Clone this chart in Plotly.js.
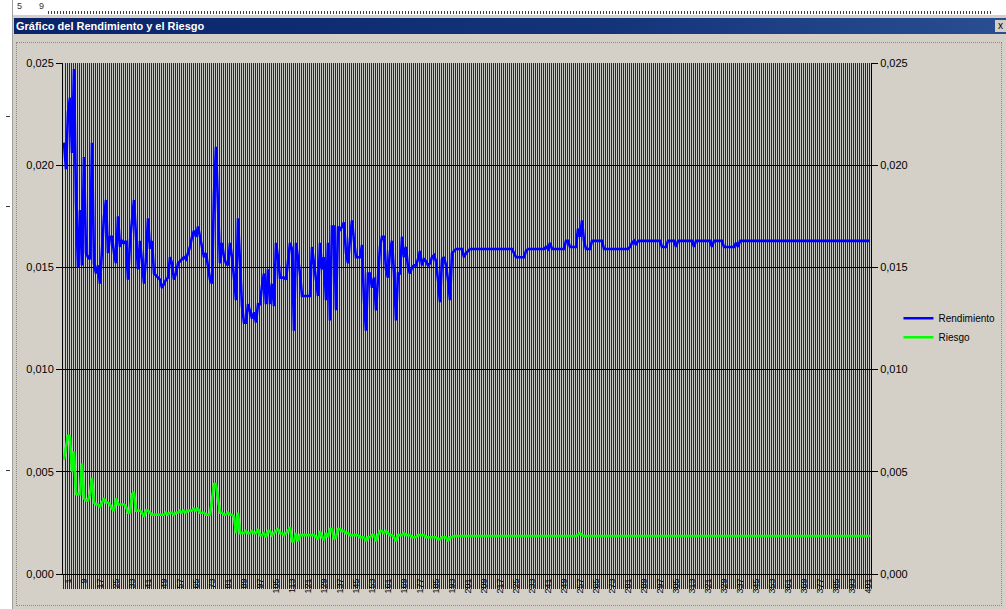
<!DOCTYPE html>
<html>
<head>
<meta charset="utf-8">
<script src="https://cdn.plot.ly/plotly-3.0.1.min.js"></script>
<style>
  html,body{margin:0;padding:0;background:#d4d0c8;}
  #wrap{position:relative;width:1006px;height:609px;overflow:hidden;background:#d4d0c8;}
  #topstrip{position:absolute;left:0;top:0;width:1006px;height:15px;background:#ffffff;}
  #leftcol{position:absolute;left:0;top:0;width:12px;height:609px;background:#ffffff;border-right:1px solid #a0a0a0;}
  #ruler{position:absolute;left:48px;top:11px;width:945px;height:3px;
    background:repeating-linear-gradient(to right,#404040 0px,#404040 1px,#ffffff 1px,#ffffff 3px);}
  .rnum{position:absolute;top:1px;font:9px "Liberation Sans",Arial,sans-serif;color:#333;}
  .lmark{position:absolute;left:6px;width:4px;height:1px;background:#333;}
  #titlebar{position:absolute;left:14px;top:18px;width:992px;height:16px;
    background:linear-gradient(to right,#0a246a 0%,#14347a 60%,#2a4e92 100%);}
  #closebtn{position:absolute;left:995px;top:20px;width:11px;height:12px;background:#d4d0c8;
    font:10px "Liberation Sans",Arial,sans-serif;line-height:11px;color:#000;text-align:center;}
  #frame{position:absolute;left:16px;top:42px;width:984px;height:562px;border:1px dotted #8a8a8a;}
  #chart{position:absolute;left:0;top:0;width:1006px;height:609px;}
</style>
</head>
<body>
<div id="wrap">
  <div id="topstrip"></div>
  <div id="ruler"></div>
  <div class="rnum" style="left:17px;">5</div>
  <div class="rnum" style="left:39px;">9</div>
  <div id="leftcol"></div>
  <div class="lmark" style="top:116px;"></div>
  <div class="lmark" style="top:206px;"></div>
  <div class="lmark" style="top:470px;"></div>
  <div id="titlebar"></div>
  <div id="closebtn">x</div>
  <div id="frame"></div>
  <div id="chart"></div>
</div>
<script>
// ---- data ----
var seriesNames = ["Rendimiento", "Riesgo"];
var seriesColors = ["#0000ff", "#00ff00"];

var rendimiento = [
0.0211,0.0198,0.0226,0.0233,0.0206,0.0247,0.0182,0.0150,0.0178,0.0151,
0.0204,0.0157,0.0155,0.0154,0.0211,0.0152,0.0147,0.0151,0.0142,0.0162,
0.0175,0.0183,0.0157,0.0165,0.0165,0.0157,0.0152,0.0175,0.0160,0.0163,
0.0162,0.0163,0.0144,0.0163,0.0175,0.0183,0.0165,0.0149,0.0163,0.0152,
0.0142,0.0155,0.0174,0.0159,0.0163,0.0147,0.0146,0.0145,0.0144,0.0140,
0.0142,0.0144,0.0145,0.0155,0.0152,0.0144,0.0147,0.0152,0.0153,0.0154,
0.0155,0.0154,0.0157,0.0160,0.0165,0.0168,0.0165,0.0170,0.0165,0.0160,
0.0155,0.0157,0.0149,0.0144,0.0142,0.0186,0.0209,0.0180,0.0152,0.0162,
0.0155,0.0152,0.0151,0.0162,0.0155,0.0145,0.0134,0.0174,0.0155,0.0131,
0.0123,0.0123,0.0132,0.0128,0.0125,0.0128,0.0123,0.0132,0.0132,0.0141,
0.0147,0.0132,0.0149,0.0132,0.0142,0.0131,0.0162,0.0155,0.0145,0.0145,
0.0145,0.0144,0.0152,0.0162,0.0159,0.0119,0.0162,0.0155,0.0147,0.0136,
0.0136,0.0136,0.0136,0.0136,0.0160,0.0152,0.0144,0.0136,0.0162,0.0149,
0.0155,0.0134,0.0162,0.0124,0.0170,0.0170,0.0129,0.0170,0.0168,0.0170,
0.0172,0.0157,0.0152,0.0164,0.0173,0.0163,0.0155,0.0155,0.0155,0.0161,
0.0134,0.0119,0.0147,0.0147,0.0140,0.0145,0.0129,0.0145,0.0160,0.0165,
0.0165,0.0149,0.0145,0.0158,0.0163,0.0147,0.0124,0.0147,0.0147,0.0165,
0.0155,0.0160,0.0150,0.0147,0.0150,0.0151,0.0151,0.0154,0.0158,0.0151,
0.0154,0.0153,0.0151,0.0152,0.0155,0.0156,0.0153,0.0144,0.0133,0.0154,
0.0155,0.0151,0.0144,0.0134,0.0157,0.0158,0.0159,0.0159,0.0159,0.0159,
0.0155,0.0157,0.0158,0.0159,0.0159,0.0159,0.0159,0.0159,0.0159,0.0159,
0.0159,0.0159,0.0159,0.0159,0.0159,0.0159,0.0159,0.0159,0.0159,0.0159,
0.0159,0.0159,0.0159,0.0159,0.0159,0.0157,0.0155,0.0155,0.0155,0.0155,
0.0155,0.0158,0.0159,0.0159,0.0159,0.0159,0.0159,0.0159,0.0159,0.0159,
0.0159,0.0160,0.0159,0.0162,0.0159,0.0159,0.0159,0.0159,0.0159,0.0159,
0.0159,0.0163,0.0163,0.0160,0.0160,0.0160,0.0160,0.0169,0.0165,0.0173,
0.0163,0.0159,0.0159,0.0159,0.0163,0.0163,0.0163,0.0163,0.0163,0.0163,
0.0159,0.0159,0.0159,0.0159,0.0159,0.0159,0.0159,0.0159,0.0159,0.0159,
0.0159,0.0159,0.0159,0.0160,0.0162,0.0163,0.0161,0.0163,0.0163,0.0163,
0.0163,0.0163,0.0163,0.0163,0.0163,0.0163,0.0163,0.0163,0.0163,0.0160,
0.0160,0.0160,0.0163,0.0163,0.0163,0.0163,0.0160,0.0163,0.0163,0.0163,
0.0163,0.0163,0.0163,0.0163,0.0163,0.0160,0.0163,0.0163,0.0163,0.0163,
0.0163,0.0163,0.0163,0.0163,0.0160,0.0163,0.0163,0.0163,0.0163,0.0163,
0.0160,0.0160,0.0160,0.0160,0.0160,0.0160,0.0162,0.0160,0.0163,0.0163,
0.0163,0.0163,0.0163,0.0163,0.0163,0.0163,0.0163,0.0163,0.0163,0.0163,
0.0163,0.0163,0.0163,0.0163,0.0163,0.0163,0.0163,0.0163,0.0163,0.0163,
0.0163,0.0163,0.0163,0.0163,0.0163,0.0163,0.0163,0.0163,0.0163,0.0163,
0.0163,0.0163,0.0163,0.0163,0.0163,0.0163,0.0163,0.0163,0.0163,0.0163,
0.0163,0.0163,0.0163,0.0163,0.0163,0.0163,0.0163,0.0163,0.0163,0.0163,
0.0163,0.0163,0.0163,0.0163,0.0163,0.0163,0.0163,0.0163,0.0163,0.0163,
0.0163,0.0163,0.0163,0.0163
];

var riesgo = [
0.0056,0.0062,0.0068,0.0067,0.0050,0.0060,0.0039,0.0039,0.0039,0.0054,
0.0037,0.0036,0.0036,0.0039,0.0047,0.0035,0.0034,0.0034,0.0033,0.0035,
0.0037,0.0035,0.0035,0.0034,0.0032,0.0031,0.0037,0.0034,0.0034,0.0034,
0.0034,0.0033,0.0030,0.0030,0.0039,0.0040,0.0031,0.0031,0.0031,0.0030,
0.0028,0.0031,0.0031,0.0030,0.0029,0.0029,0.0029,0.0029,0.0029,0.0029,
0.0029,0.0030,0.0029,0.0030,0.0030,0.0029,0.0030,0.0030,0.0031,0.0030,
0.0031,0.0030,0.0031,0.0031,0.0031,0.0032,0.0031,0.0032,0.0030,0.0030,
0.0030,0.0029,0.0029,0.0029,0.0036,0.0044,0.0044,0.0036,0.0030,0.0030,
0.0029,0.0029,0.0030,0.0029,0.0029,0.0028,0.0020,0.0030,0.0020,0.0020,
0.0020,0.0021,0.0020,0.0020,0.0021,0.0020,0.0020,0.0022,0.0019,0.0019,
0.0020,0.0018,0.0021,0.0021,0.0019,0.0020,0.0021,0.0022,0.0020,0.0020,
0.0019,0.0020,0.0021,0.0023,0.0016,0.0016,0.0020,0.0016,0.0019,0.0019,
0.0019,0.0019,0.0019,0.0019,0.0019,0.0019,0.0018,0.0017,0.0021,0.0018,
0.0017,0.0020,0.0018,0.0022,0.0022,0.0017,0.0018,0.0022,0.0022,0.0021,
0.0021,0.0020,0.0020,0.0019,0.0019,0.0019,0.0019,0.0019,0.0018,0.0018,
0.0018,0.0016,0.0018,0.0018,0.0019,0.0019,0.0016,0.0019,0.0021,0.0021,
0.0020,0.0021,0.0020,0.0019,0.0019,0.0018,0.0016,0.0019,0.0019,0.0019,
0.0020,0.0019,0.0019,0.0019,0.0018,0.0018,0.0018,0.0019,0.0019,0.0019,
0.0019,0.0018,0.0018,0.0018,0.0018,0.0018,0.0018,0.0017,0.0017,0.0018,
0.0018,0.0018,0.0016,0.0018,0.0018,0.00186,0.00186,0.00186,0.00186,0.00186,
0.00186,0.00186,0.00186,0.00186,0.00186,0.00186,0.00186,0.00186,0.00186,0.00186,
0.00186,0.00186,0.00186,0.00186,0.00186,0.00186,0.00186,0.00186,0.00186,0.00186,
0.00186,0.00186,0.00186,0.00186,0.00186,0.00186,0.00186,0.00186,0.00186,0.00186,
0.00186,0.00186,0.00186,0.00186,0.00186,0.00186,0.00186,0.00186,0.00186,0.00186,
0.00186,0.00186,0.00186,0.00186,0.00186,0.00186,0.00186,0.00186,0.00186,0.00186,
0.00186,0.00186,0.00186,0.00186,0.00186,0.00186,0.00186,0.0019,0.0020,0.0019,
0.00186,0.00186,0.00186,0.00186,0.00186,0.00186,0.00186,0.00186,0.00186,0.00186,
0.00186,0.00186,0.00186,0.00186,0.00186,0.00186,0.00186,0.00186,0.00186,0.00186,
0.00186,0.00186,0.00186,0.00186,0.00186,0.00186,0.00186,0.00186,0.00186,0.00186,
0.00186,0.00186,0.00186,0.00186,0.00186,0.00186,0.00186,0.00186,0.00186,0.00186,
0.00186,0.00186,0.00186,0.00186,0.00186,0.00186,0.00186,0.00186,0.00186,0.00186,
0.00186,0.00186,0.00186,0.00186,0.00186,0.00186,0.00186,0.00186,0.00186,0.00186,
0.00186,0.00186,0.00186,0.00186,0.00186,0.00186,0.00186,0.00186,0.00186,0.00186,
0.00186,0.00186,0.00186,0.00186,0.00186,0.00186,0.00186,0.00186,0.00186,0.00186,
0.00186,0.00186,0.00186,0.00186,0.00186,0.00186,0.00186,0.00186,0.00186,0.00186,
0.00186,0.00186,0.00186,0.00186,0.00186,0.00186,0.00186,0.00186,0.00186,0.00186,
0.00186,0.00186,0.00186,0.00186,0.00186,0.00186,0.00186,0.00186,0.00186,0.00186,
0.00186,0.00186,0.00186,0.00186,0.00186,0.00186,0.00186,0.00186,0.00186,0.00186,
0.00186,0.00186,0.00186,0.00186,0.00186,0.00186,0.00186,0.00186,0.00186,0.00186,
0.00186,0.00186,0.00186,0.00186,0.00186,0.00186,0.00186,0.00186,0.00186,0.00186,
0.00186,0.00186,0.00186,0.00186
];

// categories 1..N (period numbers)
var nCat = Math.max(rendimiento.length, riesgo.length);
var categorias = [];
for (var k = 1; k <= nCat; k++) categorias.push(k);

var yTickVals = [0, 0.005, 0.010, 0.015, 0.020, 0.025];
var xLabelStep = 8;
var chartTitle = "Gráfico del Rendimiento y el Riesgo";

var FONT = '"Liberation Sans", Arial, sans-serif';

var traces = [
  {x: categorias.slice(0, rendimiento.length), y: rendimiento, name: seriesNames[0],
   type: 'scatter', mode: 'lines', line: {color: seriesColors[0], width: 2.6}, yaxis: 'y'},
  {x: categorias.slice(0, riesgo.length), y: riesgo, name: seriesNames[1],
   type: 'scatter', mode: 'lines', line: {color: seriesColors[1], width: 2.6}, yaxis: 'y2'}
];

var yCommon = {
  range: [0, 0.025], tickvals: yTickVals, tickformat: '.3f',
  ticks: 'outside', ticklen: 6, tickcolor: '#000', tickwidth: 1,
  tickfont: {family: FONT, size: 11, color: '#000'},
  showline: true, linecolor: '#000', linewidth: 1,
  zeroline: false, fixedrange: true, automargin: false
};

var layout = {
  width: 1006, height: 609,
  margin: {l: 63, r: 135, t: 63, b: 35, pad: 0, autoexpand: false},
  paper_bgcolor: 'rgba(0,0,0,0)',
  plot_bgcolor: '#c8c8c4',
  separators: ',.',
  showlegend: true,
  title: {text: '<b>' + chartTitle + '</b>', xref: 'container', yref: 'container',
          x: 16/1006, xanchor: 'left', y: 1 - 26/609, yanchor: 'middle',
          font: {family: FONT, size: 11, color: '#ffffff'}, automargin: false},
  xaxis: {
    range: [0.5, nCat + 0.5], tick0: 1, dtick: xLabelStep, tickmode: 'linear',
    ticks: '', tickangle: -90, ticklabelshift: 4, automargin: false,
    tickfont: {family: FONT, size: 9, color: '#000'},
    showgrid: false, zeroline: false, showline: true, linecolor: '#000', linewidth: 1,
    minor: {tick0: 0.5, dtick: 1, showgrid: true, gridcolor: '#2a2a2a', gridwidth: 1,
            ticks: 'outside', ticklen: 14, tickcolor: '#2a2a2a', tickwidth: 1},
    fixedrange: true
  },
  yaxis: Object.assign({}, yCommon, {side: 'left', showgrid: true, gridcolor: '#000', gridwidth: 1}),
  yaxis2: Object.assign({}, yCommon, {side: 'right', overlaying: 'y', showgrid: false}),
  legend: {x: 1.034, xanchor: 'left', y: 0.529, yanchor: 'top',
           bgcolor: 'rgba(0,0,0,0)', borderwidth: 0,
           font: {family: FONT, size: 10, color: '#000'}, tracegroupgap: 0}
};

Plotly.newPlot('chart', traces, layout, {staticPlot: true, displayModeBar: false});
</script>
</body>
</html>
